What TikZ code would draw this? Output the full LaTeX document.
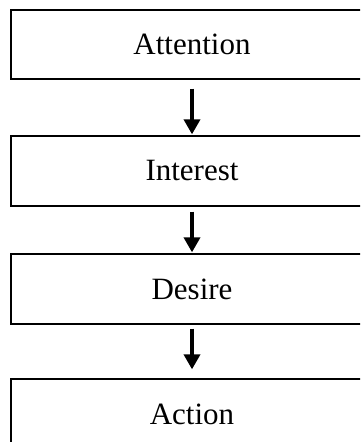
\documentclass[tikz,border=0pt]{standalone}
\usepackage{fontspec}
\setmainfont{Liberation Serif}
\usetikzlibrary{arrows.meta}
\begin{document}
\begin{tikzpicture}[x=1pt,y=1pt,
  stagebox/.style={draw=black, line width=1.3pt, minimum width=362pt, inner sep=0pt, font=\fontsize{31}{36}\selectfont},
  flowarrow/.style={line width=3.6pt, -{Triangle[width=16pt,length=15pt]}}]
\useasboundingbox (0,0) rectangle (360,442);
\clip (0,0) rectangle (360,442);
\node[stagebox, minimum height=69pt] (att) at (192,397.5) {Attention};
\node[stagebox, minimum height=70pt] (int) at (192,271) {Interest};
\node[stagebox, minimum height=70pt] (des) at (192,153) {Desire};
\node[stagebox, minimum height=70pt] (act) at (192,28) {Action};
\draw[flowarrow] ([yshift=-9pt]att.south) -- ([yshift=1pt]int.north);
\draw[flowarrow] ([yshift=-5pt]int.south) -- ([yshift=1pt]des.north);
\draw[flowarrow] ([yshift=-4pt]des.south) -- ([yshift=9pt]act.north);
\end{tikzpicture}
\end{document}
